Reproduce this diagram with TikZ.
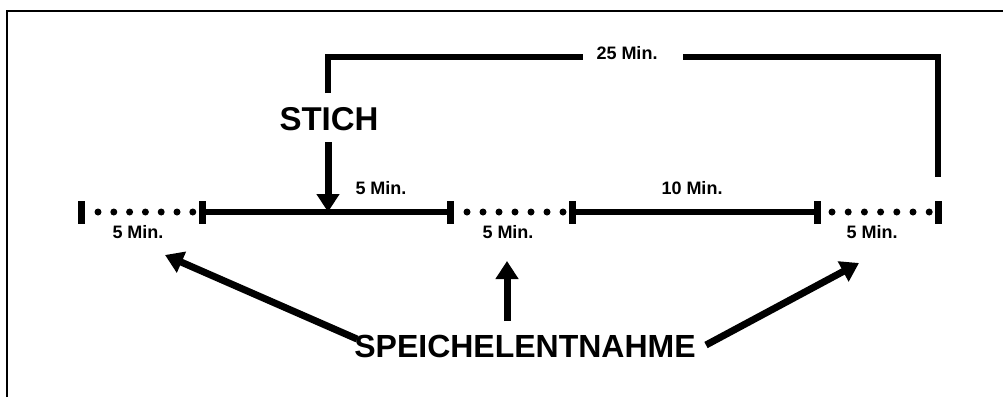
\documentclass[tikz,border=0pt]{standalone}
\usepackage{fontspec}
\setmainfont{Liberation Sans}
\usetikzlibrary{arrows.meta}
\begin{document}
\begin{tikzpicture}[x=1pt,y=-1pt,
  bar/.style={line width=6.5pt},
  tick/.style={line width=7pt},
  dotmark/.style={fill=black},
  arr/.style={line width=7pt,-{Triangle[length=18pt,width=22pt]}},
  small/.style={font=\bfseries\fontsize{18}{18}\selectfont,inner sep=0pt},
  big/.style={font=\bfseries\fontsize{32}{32}\selectfont,inner sep=0pt}]
\useasboundingbox (0,0) rectangle (1003,397);
% frame
\draw[line width=2pt] (7,397) -- (7,11) -- (1003,11);
% timeline tick positions
\coordinate (t0) at (81,212);
\coordinate (t1) at (202,212);
\coordinate (t2) at (450,212);
\coordinate (t3) at (572,212);
\coordinate (t4) at (817,212);
\coordinate (t5) at (938,212);
% end and segment ticks
\foreach \t in {t0,t1,t2,t3,t4,t5}
  \draw[tick] ([yshift=-11.5pt]\t) -- ([yshift=11.5pt]\t);
% solid segments
\draw[bar] (t1) -- (t2);
\draw[bar] (t3) -- (t4);
% dotted segments
\foreach \x in {0,...,6} {
  \fill[dotmark] (98+\x*15.8,212) circle (3.5pt);
  \fill[dotmark] (467+\x*16,212) circle (3.5pt);
  \fill[dotmark] (832+\x*16.2,212) circle (3.5pt);
}
% duration labels
\node[small] (d1) at (138,232) {5 Min.};
\node[small] (d2) at (381,188) {5 Min.};
\node[small] (d3) at (508,232) {5 Min.};
\node[small] (d4) at (692,188) {10 Min.};
\node[small] (d5) at (872,232) {5 Min.};
% 25 min bracket
\node[small] (d25) at (627,53) {25 Min.};
\coordinate (bl) at (328,93);
\coordinate (br) at (938,177);
\draw[bar] (bl) -- (328,57) -- ([xshift=-44pt]d25.center |- 0,57);
\draw[bar] ([xshift=56pt]d25.center |- 0,57) -- (938,57) -- (br);
% Stich
\node[big,font=\bfseries\fontsize{33}{33}\selectfont] (stich) at (329,119) {STICH};
\coordinate (sp) at (328,212);
\draw[arr] (328,142) -- (sp);
% Speichelentnahme
\node[big] (sp2) at (525,346) {SPEICHELENTNAHME};
\coordinate (a1) at (165,255);
\coordinate (a2) at (507,261);
\coordinate (a3) at (859,263);
\draw[arr] (357,339) -- (a1);
\draw[arr] (507,321) -- (a2);
\draw[arr] (706,345) -- (a3);
\end{tikzpicture}
\end{document}
